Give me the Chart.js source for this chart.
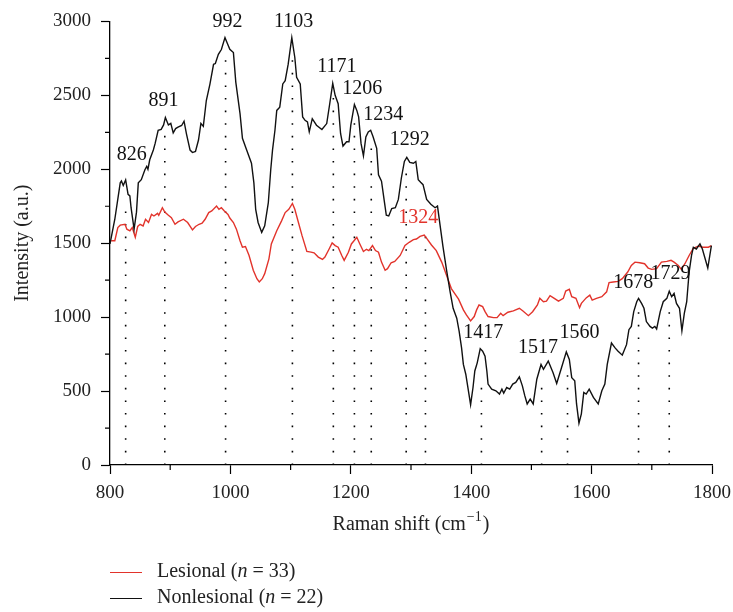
<!DOCTYPE html>
<html>
<head>
<meta charset='utf-8'>
<title>Raman spectra lesional vs nonlesional</title>
<script src="https://cdn.jsdelivr.net/npm/chart.js@4.4.1/dist/chart.umd.min.js"></script>
<style>
    body { margin: 0; background: #fff; }
    #wrap { position: relative; width: 733px; height: 612px; }
    .legend { position: absolute; left: 110px; font-family: 'Liberation Serif', serif; font-size: 20px; color: #222; white-space: nowrap; }
    .legend .swatch { display: inline-block; width: 32px; height: 0; border-top: 1.5px solid; vertical-align: middle; margin-right: 15px; }
</style>
</head>
<body>
<div id="wrap">
    <canvas id="myChart" width="733" height="612"></canvas>
    <div class="legend" style="top:559px"><span class="swatch" style="border-color:#e2332b"></span>Lesional (<i>n</i> = 33)</div>
    <div class="legend" style="top:585px"><span class="swatch" style="border-color:#111"></span>Nonlesional (<i>n</i> = 22)</div>
</div>
<script>
// nonlesional (black) spectrum
const nonShift = [800, 808, 817, 819, 822, 826, 830, 833, 835, 840, 844, 847, 852, 858, 861, 863, 866, 872, 875, 880,
    885, 889, 892, 897, 901, 905, 909, 913, 919, 923, 927, 933, 937, 942, 947, 951, 955, 960, 966, 972,
    975, 980, 985, 991, 995, 999, 1005, 1009, 1016, 1020, 1027, 1035, 1039, 1042, 1046, 1052, 1057, 1063, 1067, 1070,
    1074, 1077, 1082, 1087, 1091, 1096, 1102, 1107, 1110, 1116, 1120, 1124, 1128, 1131, 1136, 1143, 1152, 1160, 1165, 1170,
    1174, 1179, 1183, 1187, 1193, 1197, 1200, 1206, 1210, 1213, 1217, 1221, 1225, 1229, 1233, 1237, 1243, 1246, 1251, 1256,
    1259, 1263, 1268, 1274, 1279, 1284, 1289, 1293, 1298, 1304, 1308, 1312, 1316, 1320, 1326, 1333, 1340, 1344, 1349, 1353,
    1359, 1365, 1370, 1376, 1380, 1384, 1387, 1391, 1399, 1403, 1406, 1410, 1415, 1419, 1423, 1426, 1428, 1434, 1441, 1447,
    1451, 1454, 1459, 1464, 1469, 1474, 1480, 1485, 1489, 1493, 1498, 1503, 1509, 1516, 1520, 1528, 1536, 1542, 1550, 1558,
    1563, 1567, 1572, 1575, 1579, 1583, 1587, 1591, 1596, 1603, 1611, 1617, 1622, 1626, 1633, 1639, 1644, 1651, 1658, 1662,
    1666, 1670, 1675, 1678, 1683, 1687, 1691, 1697, 1701, 1705, 1708, 1714, 1719, 1725, 1729, 1733, 1737, 1741, 1746, 1750,
    1754, 1758, 1762, 1766, 1769, 1774, 1780, 1784, 1793, 1799];
const nonIntensity = [1495, 1662, 1908, 1920, 1890, 1928, 1830, 1820, 1740, 1595, 1710, 1908, 1930, 1997, 2020, 2000, 2064, 2130, 2175, 2264,
    2270, 2300, 2350, 2300, 2310, 2246, 2275, 2285, 2296, 2325, 2240, 2130, 2113, 2120, 2198, 2310, 2290, 2465, 2576, 2710,
    2715, 2777, 2810, 2890, 2850, 2811, 2789, 2588, 2376, 2209, 2131, 2041, 1908, 1729, 1640, 1573, 1618, 1774, 1997, 2131,
    2264, 2398, 2420, 2577, 2599, 2711, 2890, 2756, 2622, 2577, 2354, 2331, 2320, 2253, 2342, 2298, 2269, 2309, 2443, 2581,
    2500, 2443, 2242, 2157, 2186, 2186, 2298, 2438, 2398, 2354, 2175, 2091, 2219, 2253, 2264, 2220, 2142, 1963, 1919, 1774,
    1689, 1684, 1734, 1740, 1796, 1941, 2053, 2080, 2047, 2041, 2053, 1930, 1912, 1896, 1796, 1763, 1740, 1751, 1600, 1480,
    1320, 1171, 1060, 993, 903, 792, 680, 614, 408, 524, 636, 691, 787, 770, 736, 636, 547, 513, 502, 480,
    513, 486, 524, 513, 547, 558, 596, 535, 469, 413, 446, 413, 580, 680, 647, 703, 624, 551, 658, 765,
    714, 591, 569, 413, 283, 346, 491, 480, 513, 457, 413, 502, 547, 680, 825, 792, 770, 743, 814, 915,
    937, 1037, 1104, 1127, 1093, 1060, 970, 937, 926, 937, 920, 1037, 1104, 1127, 1176, 1138, 1160, 1093, 1060, 908,
    1026, 1104, 1305, 1417, 1472, 1461, 1495, 1461, 1332, 1484];

// lesional (red) spectrum
const lesShift = [802, 808, 813, 817, 825, 828, 833, 837, 842, 846, 850, 855, 859, 864, 869, 873, 879, 881, 887, 891,
    897, 902, 908, 913, 922, 929, 937, 942, 948, 953, 958, 964, 969, 977, 981, 985, 990, 996, 999, 1005,
    1010, 1016, 1020, 1025, 1031, 1038, 1044, 1048, 1053, 1057, 1064, 1068, 1077, 1085, 1091, 1097, 1103, 1107, 1113, 1119,
    1127, 1134, 1139, 1146, 1153, 1157, 1164, 1169, 1174, 1179, 1185, 1189, 1196, 1201, 1210, 1215, 1221, 1226, 1230, 1236,
    1241, 1246, 1251, 1257, 1261, 1267, 1273, 1282, 1290, 1297, 1304, 1309, 1315, 1322, 1327, 1334, 1342, 1351, 1359, 1367,
    1379, 1387, 1392, 1399, 1405, 1409, 1413, 1419, 1423, 1428, 1437, 1443, 1449, 1453, 1461, 1470, 1480, 1486, 1495, 1502,
    1510, 1514, 1520, 1525, 1531, 1538, 1545, 1553, 1557, 1563, 1567, 1574, 1580, 1583, 1591, 1597, 1601, 1608, 1617, 1625,
    1629, 1636, 1644, 1651, 1660, 1666, 1672, 1680, 1688, 1694, 1700, 1708, 1716, 1725, 1732, 1737, 1744, 1749, 1755, 1762,
    1769, 1777, 1785, 1794, 1799];
const lesIntensity = [1517, 1517, 1606, 1622, 1628, 1595, 1584, 1606, 1540, 1613, 1628, 1617, 1662, 1640, 1695, 1684, 1702, 1689, 1740, 1711,
    1689, 1673, 1628, 1644, 1662, 1640, 1590, 1613, 1628, 1635, 1662, 1707, 1718, 1751, 1729, 1740, 1718, 1695, 1670, 1640,
    1595, 1517, 1473, 1477, 1417, 1317, 1260, 1238, 1260, 1294, 1394, 1495, 1584, 1651, 1707, 1729, 1769, 1729, 1640, 1551,
    1444, 1440, 1435, 1406, 1390, 1406, 1461, 1502, 1484, 1473, 1417, 1384, 1439, 1495, 1540, 1495, 1444, 1459, 1450, 1484,
    1450, 1439, 1372, 1317, 1328, 1368, 1377, 1417, 1484, 1506, 1524, 1528, 1546, 1555, 1528, 1488, 1450, 1372, 1283, 1193,
    1122, 1049, 1015, 975, 1004, 1049, 1082, 1071, 1037, 1004, 997, 997, 1026, 1010, 1033, 1042, 1060, 1042, 1010, 1037,
    1082, 1127, 1104, 1108, 1145, 1127, 1108, 1127, 1176, 1189, 1138, 1127, 1064, 1093, 1130, 1149, 1115, 1127, 1138, 1171,
    1233, 1238, 1242, 1260, 1305, 1350, 1372, 1368, 1361, 1332, 1323, 1328, 1372, 1377, 1384, 1372, 1350, 1323, 1361, 1417,
    1466, 1480, 1473, 1473, 1484];

// marked peaks: dotted line top and label anchor
const peakShift = [826, 891, 992, 1103, 1171, 1206, 1234, 1292, 1324, 1417, 1517, 1560, 1678, 1729];
const peakTop = [1787, 2255, 2790, 2800, 2510, 2343, 2175, 1997, 1553, 591, 569, 636, 1037, 1093];
const labelX = [836, 889, 995, 1105, 1177, 1219, 1254, 1298, 1312, 1420, 1511, 1580, 1669, 1731];
const labelY = [2095, 2460, 2995, 2995, 2690, 2545, 2370, 2200, 1675, 895, 790, 895, 1235, 1292];

const RED = '#e2332b';
const BLACK = '#111';
const SERIF = "'Liberation Serif', serif";

Chart.defaults.font.family = SERIF;
Chart.defaults.font.size = 19;
Chart.defaults.color = '#222';

function zip(xs, ys) {
    return xs.map((x, i) => ({ x: x, y: ys[i] }));
}

const datasets = [
    { label: 'Nonlesional', data: zip(nonShift, nonIntensity), borderColor: BLACK, borderWidth: 1.4, pointRadius: 0, tension: 0 },
    { label: 'Lesional', data: zip(lesShift, lesIntensity), borderColor: RED, borderWidth: 1.4, pointRadius: 0, tension: 0 }
];
peakShift.forEach((p, i) => {
    datasets.push({
        label: 'peak ' + p,
        data: [{ x: p, y: 0 }, { x: p, y: peakTop[i] }],
        borderColor: '#000', borderWidth: 1.6, borderDash: [1.6, 11], pointRadius: 0
    });
});

// minor ticks, peak numbers and the x title with its superscript
const extras = {
    id: 'extras',
    afterDraw(chart) {
        const { ctx, scales: { x, y } } = chart;
        ctx.save();
        ctx.strokeStyle = '#000';
        ctx.lineWidth = 1.2;
        ctx.beginPath();
        for (let v = 900; v < 1800; v += 200) {
            const px = x.getPixelForValue(v);
            ctx.moveTo(px, y.bottom); ctx.lineTo(px, y.bottom + 5);
        }
        for (let v = 250; v < 3000; v += 500) {
            const py = y.getPixelForValue(v);
            ctx.moveTo(x.left, py); ctx.lineTo(x.left - 5, py);
        }
        ctx.stroke();

        ctx.font = '20px ' + SERIF;
        ctx.textAlign = 'center';
        ctx.textBaseline = 'middle';
        peakShift.forEach((p, i) => {
            ctx.fillStyle = p === 1324 ? RED : BLACK;
            ctx.fillText(String(p), x.getPixelForValue(labelX[i]), y.getPixelForValue(labelY[i]));
        });

        // "Raman shift (cm−1)"
        const main1 = 'Raman shift (cm', sup = '\u22121', main2 = ')';
        const big = '20px ' + SERIF, small = '14px ' + SERIF;
        ctx.font = big;
        const w1 = ctx.measureText(main1).width, w3 = ctx.measureText(main2).width;
        ctx.font = small;
        const w2 = ctx.measureText(sup).width + 2;
        const cx = (x.left + x.right) / 2;
        let sx = cx - (w1 + w2 + w3) / 2;
        const by = 530;
        ctx.fillStyle = '#222';
        ctx.textAlign = 'left';
        ctx.textBaseline = 'alphabetic';
        ctx.font = big;
        ctx.fillText(main1, sx, by);
        ctx.font = small;
        ctx.fillText(sup, sx + w1 + 1, by - 9);
        ctx.font = big;
        ctx.fillText(main2, sx + w1 + w2, by);
        ctx.restore();
    }
};

const axisGrid = (major) => ({
    drawOnChartArea: false,
    drawTicks: true,
    tickLength: 9,
    tickWidth: 1.2,
    tickColor: (c) => (c.tick && c.tick.value % major === 0) ? '#000' : 'rgba(0,0,0,0)'
});

new Chart(document.getElementById('myChart').getContext('2d'), {
    type: 'line',
    data: { datasets: datasets },
    options: {
        responsive: false,
        animation: false,
        layout: { padding: { top: 17, right: 21, bottom: 70, left: 0 } },
        plugins: { legend: { display: false }, tooltip: { enabled: false } },
        scales: {
            x: {
                type: 'linear', min: 800, max: 1800,
                ticks: { stepSize: 100, autoSkip: false, maxRotation: 0, padding: 8, color: '#222',
                    callback: (v) => v % 200 === 0 ? v : '' },
                grid: axisGrid(200),
                border: { display: true, color: '#000', width: 1.3 },
                afterFit: (s) => { s.height = 77; s.paddingRight = 21; s.paddingLeft = 0; }
            },
            y: {
                min: 0, max: 3000,
                ticks: { stepSize: 250, padding: 10, color: '#222',
                    callback: (v) => v % 500 === 0 ? v : '' },
                grid: axisGrid(500),
                border: { display: true, color: '#000', width: 1.3 },
                title: { display: true, text: 'Intensity (a.u.)', color: '#222', font: { size: 20 }, padding: { top: 11, bottom: 0 } },
                afterFit: (s) => { s.width = 110; }
            }
        }
    },
    plugins: [extras]
});
</script>
</body>
</html>
